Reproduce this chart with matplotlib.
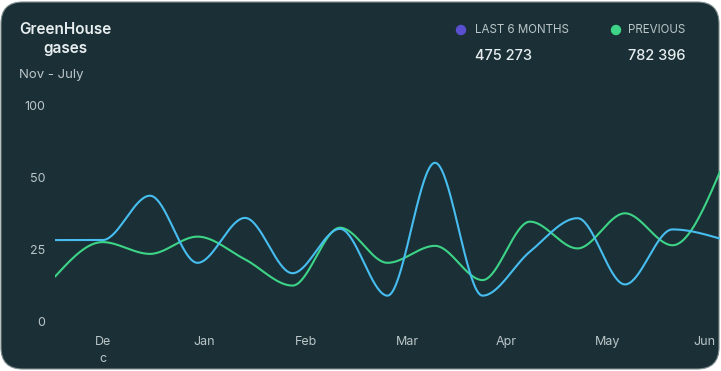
import numpy as np
import matplotlib.pyplot as plt
from matplotlib.patches import FancyBboxPatch, Ellipse

# days from the first sample (mid Nov), one point every two weeks
days = [0, 14, 28, 42, 56, 70, 84, 98, 112, 126, 140, 154, 168, 182, 196]
last_6_months = [28.1, 28.1, 43.5, 20.2, 35.8, 16.6, 32.0, 8.8, 59.9, 8.8, 24.1, 35.7, 12.7, 31.8, 28.6]
previous = [15.4, 27.4, 23.3, 29.3, 21.4, 12.3, 32.4, 20.2, 26.1, 14.2, 34.5, 25.2, 37.4, 26.3, 53.7]

month_labels = ['De\nc', 'Jan', 'Feb', 'Mar', 'Apr', 'May', 'Jun']
month_days = [14, 44, 74, 104, 133, 163, 191.5]
y_ticks = [0, 25, 50, 100]

total_last = '475 273'
total_prev = '782 396'

BG = '#1a3036'
BLUE = '#47bdf0'
GREEN = '#3dd487'
PURPLE = '#5a4fd0'
LABEL = '#bcc6c8'
WHITE = '#e8eeef'

W, H = 721, 371
plt.rcParams['font.family'] = ['Inter', 'DejaVu Sans']


def fx(px):
    return px / W


def fy(py):
    return 1 - py / H


# y axis labels are equally spaced, so map 0/25/50/100 onto 0/1/2/3
def fwd(v):
    return np.interp(v, y_ticks, [0, 1, 2, 3])


def inv(u):
    return np.interp(u, [0, 1, 2, 3], y_ticks)


def monotone(x, y, n=40):
    # monotone cubic (same idea as d3 curveMonotoneX)
    x = np.asarray(x, float)
    y = np.asarray(y, float)
    h = np.diff(x)
    s = np.diff(y) / h
    t = np.zeros_like(y)
    for i in range(1, len(y) - 1):
        p = (s[i - 1] * h[i] + s[i] * h[i - 1]) / (h[i - 1] + h[i])
        t[i] = (np.sign(s[i - 1]) + np.sign(s[i])) * min(abs(s[i - 1]), abs(s[i]), 0.5 * abs(p))
    t[0] = (3 * s[0] - t[1]) / 2
    t[-1] = (3 * s[-1] - t[-2]) / 2
    xs, ys = [], []
    for i in range(len(h)):
        u = np.linspace(0, 1, n)
        h00 = 2 * u**3 - 3 * u**2 + 1
        h10 = u**3 - 2 * u**2 + u
        h01 = -2 * u**3 + 3 * u**2
        h11 = u**3 - u**2
        xs.append(x[i] + u * h[i])
        ys.append(h00 * y[i] + h10 * h[i] * t[i] + h01 * y[i + 1] + h11 * h[i] * t[i + 1])
    return np.concatenate(xs), np.concatenate(ys)


fig = plt.figure(figsize=(W / 100, H / 100), dpi=100)
fig.patch.set_facecolor('#ffffff')
card = FancyBboxPatch((fx(1), fy(369)), fx(718), 367 / H,
                      boxstyle='round,pad=0,rounding_size=0.03',
                      transform=fig.transFigure, facecolor=BG,
                      edgecolor='#7f8c8e', linewidth=0.8, mutation_aspect=W / H,
                      zorder=-10)
fig.add_artist(card)

ax = fig.add_axes([fx(55), fy(321), fx(720) - fx(55), (321 - 105) / H])
ax.set_zorder(5)
ax.set_facecolor('none')
ax.set_yscale('function', functions=(fwd, inv))

for series, color in [(previous, GREEN), (last_6_months, BLUE)]:
    xs, us = monotone(days, fwd(np.array(series)))
    ax.plot(xs, inv(us), color=color, lw=1.5, solid_capstyle='round')

ax.set_xlim(0, 196)
ax.set_ylim(0, 100)
ax.set_yticks(y_ticks)
ax.set_yticklabels([str(v) for v in y_ticks])
ax.set_xticks(month_days)
ax.set_xticklabels(month_labels, linespacing=1.5, va='top')
ax.tick_params(axis='both', length=0, colors=LABEL, labelsize=9)
ax.tick_params(axis='y', pad=7)
ax.tick_params(axis='x', pad=11)
for sp in ax.spines.values():
    sp.set_visible(False)

# header
fig.text(fx(65), fy(39), 'GreenHouse\ngases', ha='center', va='center',
         fontsize=11, color=WHITE, fontweight='semibold', linespacing=1.25)
fig.text(fx(19), fy(75), 'Nov - July', ha='left', va='center', fontsize=9.5, color=LABEL)

for px, color in [(461, PURPLE), (616, GREEN)]:
    fig.add_artist(Ellipse((fx(px), fy(30)), 9 / W, 9 / H,
                           transform=fig.transFigure, color=color))
fig.text(fx(475), fy(30), 'LAST 6 MONTHS', ha='left', va='center', fontsize=8.3, color=LABEL)
fig.text(fx(628), fy(30), 'PREVIOUS', ha='left', va='center', fontsize=8.3, color=LABEL)
fig.text(fx(475), fy(56), total_last, ha='left', va='center', fontsize=10.5,
         color=WHITE, fontweight='medium')
fig.text(fx(628), fy(56), total_prev, ha='left', va='center', fontsize=10.5,
         color=WHITE, fontweight='medium')

fig.savefig('out.png', dpi=100, facecolor=fig.get_facecolor())
plt.close()
